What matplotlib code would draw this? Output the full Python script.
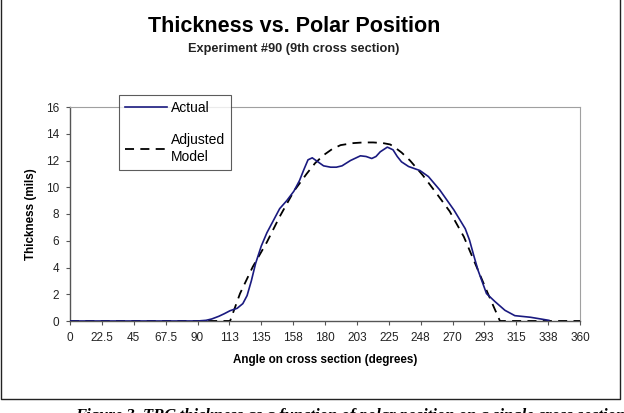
import matplotlib
matplotlib.use("Agg")
import matplotlib.pyplot as plt
from matplotlib.lines import Line2D

plt.rcParams['font.family'] = ['Liberation Sans', 'DejaVu Sans']

# angle (deg) / thickness (mils)
actual_x = [0, 45, 90, 96, 100, 105, 109, 113, 118, 122, 125, 128, 131, 135, 139, 144,
            148, 153, 158, 162, 165, 168, 171, 175, 179, 184, 188, 192, 198, 205, 209,
            213, 216, 219, 224, 228, 231, 234, 239, 243, 247, 253, 261, 271, 279, 282,
            285, 288, 294, 300, 307, 314, 325, 338]
actual_y = [0, 0, 0, 0.05, 0.15, 0.35, 0.55, 0.77, 0.95, 1.3, 1.9, 3.0, 4.3, 5.6, 6.6,
            7.6, 8.4, 9.0, 9.7, 10.5, 11.3, 12.05, 12.2, 11.9, 11.6, 11.5, 11.5, 11.6,
            12.0, 12.35, 12.3, 12.15, 12.3, 12.65, 13.0, 12.8, 12.3, 11.9, 11.55, 11.4,
            11.25, 10.8, 9.8, 8.3, 6.9, 6.05, 4.9, 3.8, 2.05, 1.45, 0.8, 0.4, 0.28, 0.05]

model_x = [0, 113, 120, 129, 139, 148, 158, 167, 173, 179, 185, 191, 200, 207, 214, 221,
           226, 229, 234, 240, 249, 259, 268, 278, 287, 295, 303.5, 360]
model_y = [0, 0, 2.05, 4.05, 5.9, 7.8, 9.7, 11.0, 11.8, 12.4, 12.85, 13.15, 13.3, 13.35,
           13.35, 13.3, 13.2, 13.0, 12.6, 12.0, 10.9, 9.5, 8.2, 6.3, 4.05, 2.05, 0, 0]

xticks = [i * 22.5 for i in range(17)]
xtick_labels = ['0', '22.5', '45', '67.5', '90', '113', '135', '158', '180', '203',
                '225', '248', '270', '293', '315', '338', '360']
yticks = [0, 2, 4, 6, 8, 10, 12, 14, 16]

fig = plt.figure(figsize=(6.24, 4.13), dpi=100)
ax = fig.add_axes([70 / 624, 1 - 321 / 413, 510 / 624, 214 / 413])

ax.plot(model_x, model_y, color='black', lw=1.3, ls=(0, (5, 3.5)), zorder=3)
ax.plot(actual_x, actual_y, color='#1a1a80', lw=1.2, zorder=4)

ax.set_xlim(0, 360)
ax.set_ylim(0, 16)
ax.set_xticks(xticks)
ax.set_xticklabels(xtick_labels)
ax.set_yticks(yticks)
ax.tick_params(labelsize=8.5, length=3, width=0.8, color='#555555', pad=5,
               labelcolor='#222222')
for s in ['top', 'right']:
    ax.spines[s].set_color('#a0a0a0')
    ax.spines[s].set_linewidth(0.8)
for s in ['left', 'bottom']:
    ax.spines[s].set_color('#555555')
    ax.spines[s].set_linewidth(1.0)

ax.set_xlabel('Angle on cross section (degrees)', fontsize=8.4, fontweight='bold', labelpad=7)
ax.set_ylabel('Thickness (mils)', fontsize=8.4, fontweight='bold', labelpad=6)

h = [Line2D([], [], color='#1a1a80', lw=1.2),
     Line2D([], [], color='black', lw=1.3, ls=(0, (5, 3.5)))]
leg = fig.legend(h, ['Actual', 'Adjusted\nModel'], loc='upper left',
                 bbox_to_anchor=(119 / 624, 1 - 95 / 413), fontsize=10,
                 frameon=True, fancybox=False, handlelength=3.0, handletextpad=0.3,
                 labelspacing=1.3, borderpad=0.45, borderaxespad=0)
leg.get_frame().set_edgecolor('#333333')
leg.get_frame().set_linewidth(0.8)

fig.text(294 / 624, 1 - 26 / 413, 'Thickness vs. Polar Position', ha='center', va='center',
         fontsize=15.5, fontweight='bold')
fig.text(294 / 624, 1 - 49 / 413, 'Experiment #90 (9th cross section)', ha='center',
         va='center', fontsize=9.2, fontweight='bold', color='#222222')

# outer chart border
fig.add_artist(Line2D([1 / 624, 1 / 624, 620 / 624, 620 / 624],
                      [1, 1 - 399 / 413, 1 - 399 / 413, 1],
                      transform=fig.transFigure, color='#222222', lw=1.0))

# figure caption, clipped by the bottom edge as in the source
fig.text(75 / 624, 1 - 416 / 413, 'Figure 3. TBC thickness as a function of polar position on a single cross section',
         ha='left', va='center', fontsize=12, fontweight='bold', style='italic',
         family='Liberation Serif')

fig.savefig('out.png', dpi=100)
